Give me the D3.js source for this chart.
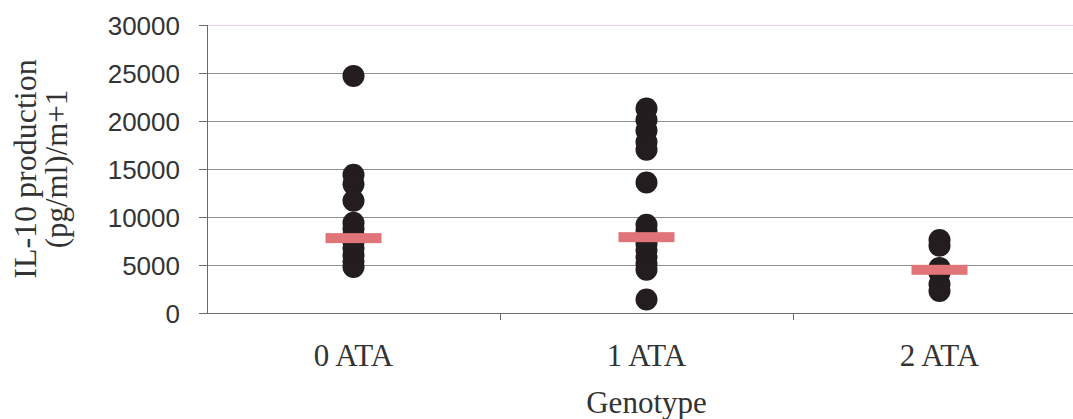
<html>
<head>
	<title>IL-10 production by genotype</title>
	<script src="https://d3js.org/d3.v7.min.js"></script>
</head>
<body>
	<style> *{
		margin: 0px;
		padding: 0px;
	}
	body { background: #fff; }
	</style>

	<svg id="SVGcanvas" width="1073" height="419" xmlns="http://www.w3.org/2000/svg"></svg>

	<script>
	// categories and values
	var genotypes = ["0 ATA", "1 ATA", "2 ATA"];
	var values0 = [24700, 14400, 13400, 11700, 9400, 8800, 8100, 7400, 6700, 6000, 5400, 4800];
	var values1 = [21300, 20100, 19000, 17800, 17000, 13600, 9200, 8600, 7900, 7200, 6500, 5800, 5100, 4500, 1400];
	var values2 = [7600, 7000, 4700, 4200, 3000, 2300];
	var medians = [7800, 7900, 4500];
	var yTicks = [0, 5000, 10000, 15000, 20000, 25000, 30000];

	var svg = d3.select( "#SVGcanvas" );

	// plot area edges (the right one runs past the window)
	var plotLeft = 207, plotTop = 25, plotBottom = 313, plotRight = 1086;

	var x = d3.scaleBand()
		.domain( genotypes )
		.range( [plotLeft, plotRight] )
		.padding( 0 );

	var y = d3.scaleLinear()
		.domain( [0, 30000] )
		.range( [plotBottom, plotTop] );

	// gridlines
	svg.append( "g" )
		.selectAll( "line" )
		.data( yTicks.slice( 1 ) )
		.enter()
		.append( "line" )
		.attr( "x1", plotLeft )
		.attr( "x2", 1073 )
		.attr( "y1", function ( d ) { return y( d ) + 0.5; } )
		.attr( "y2", function ( d ) { return y( d ) + 0.5; } )
		.attr( "stroke", function ( d ) { return d == 30000 ? "#f2cfd6" : "#909090"; } )
		.attr( "stroke-width", 1 );

	// y axis
	var yAxis = svg.append( "g" )
		.attr( "transform", "translate(" + plotLeft + ",0)" )
		.call( d3.axisLeft( y ).tickValues( yTicks ).tickSize( 8 ).tickPadding( 0 ).tickFormat( d3.format( "d" ) ) );
	yAxis.select( ".domain" ).attr( "stroke", "#6a6a6a" ).attr( "d", "M0.5," + plotTop + "V" + plotBottom );
	yAxis.selectAll( ".tick line" ).attr( "stroke", "#6a6a6a" );
	yAxis.selectAll( ".tick text" )
		.attr( "x", -27 )
		.attr( "dy", "0.36em" )
		.attr( "fill", "#333" )
		.style( "font-family", "'Liberation Sans', Arial, sans-serif" )
		.style( "font-size", "26px" );

	// x axis
	var xAxis = svg.append( "g" )
		.attr( "transform", "translate(0," + plotBottom + ")" )
		.call( d3.axisBottom( x ).tickSize( 0 ).tickPadding( 0 ) );
	xAxis.select( ".domain" ).attr( "stroke", "#6a6a6a" ).attr( "d", "M" + ( plotLeft - 8 ) + ",0.5H1073" );
	xAxis.selectAll( ".tick text" )
		.attr( "y", 53 )
		.attr( "dy", 0 )
		.attr( "fill", "#333" )
		.style( "font-family", "'Liberation Serif', 'Times New Roman', serif" )
		.style( "font-size", "31px" );

	// band boundary tick marks
	svg.append( "g" )
		.selectAll( "line" )
		.data( genotypes.slice( 1 ) )
		.enter()
		.append( "line" )
		.attr( "x1", function ( d ) { return x( d ) + 0.5; } )
		.attr( "x2", function ( d ) { return x( d ) + 0.5; } )
		.attr( "y1", plotBottom )
		.attr( "y2", plotBottom + 7 )
		.attr( "stroke", "#6a6a6a" );

	// dots
	var allValues = [values0, values1, values2];
	allValues.forEach( function ( vals, i ) {
		svg.append( "g" )
			.selectAll( "circle" )
			.data( vals )
			.enter()
			.append( "circle" )
			.attr( "cx", x( genotypes[i] ) + x.bandwidth() / 2 )
			.attr( "cy", function ( d ) { return y( d ); } )
			.attr( "r", 11 )
			.attr( "fill", "#241d20" );
	} );

	// median bars
	svg.append( "g" )
		.selectAll( "rect" )
		.data( medians )
		.enter()
		.append( "rect" )
		.attr( "x", function ( d, i ) { return x( genotypes[i] ) + x.bandwidth() / 2 - 28; } )
		.attr( "y", function ( d ) { return y( d ) - 5; } )
		.attr( "width", 56 )
		.attr( "height", 10 )
		.attr( "fill", "#e07479" );

	// axis titles
	svg.append( "text" )
		.attr( "x", x( genotypes[1] ) + x.bandwidth() / 2 )
		.attr( "y", 413 )
		.attr( "text-anchor", "middle" )
		.attr( "fill", "#333" )
		.style( "font-family", "'Liberation Serif', 'Times New Roman', serif" )
		.style( "font-size", "31px" )
		.text( "Genotype" );

	var yTitle = svg.append( "text" )
		.attr( "transform", "translate(0,169) rotate(-90)" )
		.attr( "text-anchor", "middle" )
		.attr( "fill", "#333" )
		.style( "font-family", "'Liberation Serif', 'Times New Roman', serif" )
		.style( "font-size", "32px" );
	yTitle.append( "tspan" ).attr( "x", 0 ).attr( "y", 36 ).text( "IL-10 production" );
	yTitle.append( "tspan" ).attr( "x", 0 ).attr( "y", 67 ).style( "font-size", "31px" ).text( "(pg/ml)/m+1" );
	</script>
</body>
</html>
